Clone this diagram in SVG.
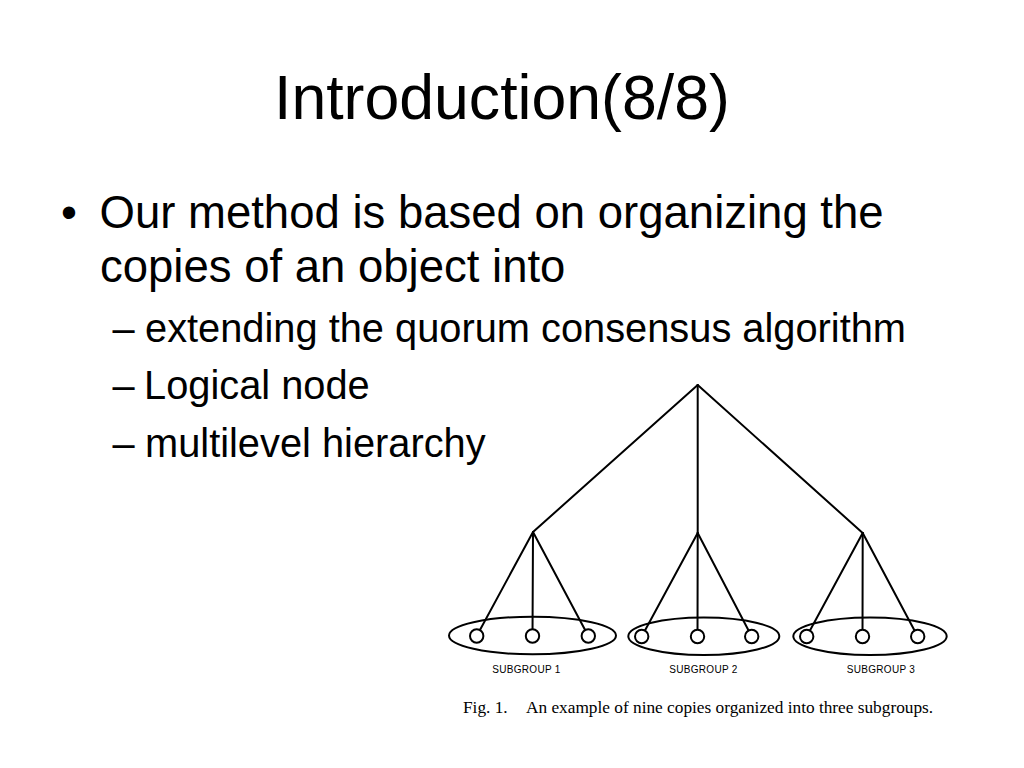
<svg xmlns="http://www.w3.org/2000/svg" width="1024" height="768" viewBox="0 0 1024 768">
<style>
.title{font-family:"Liberation Sans",Arial,sans-serif;font-size:62.6px;fill:#000}
.l1{font-family:"Liberation Sans",Arial,sans-serif;font-size:45.5px;fill:#000}
.l2{font-family:"Liberation Sans",Arial,sans-serif;font-size:39.8px;fill:#000}
.edge{stroke:#000;stroke-width:2;fill:none;stroke-linecap:round}
.leaf{fill:#fff;stroke:#000;stroke-width:2}
.grp{fill:none;stroke:#000;stroke-width:2}
.lab{font-family:"Liberation Sans",Arial,sans-serif;font-size:10px;fill:#000;text-anchor:middle}
.cap{font-family:"Liberation Serif","Times New Roman",serif;font-size:17.3px;fill:#000}
</style>
<rect width="1024" height="768" fill="#fff"/>
<text class="title" x="274" y="119.3">Introduction(8/8)</text>
<text class="l1" x="69" y="228" text-anchor="middle">•</text>
<text class="l1" x="99.5" y="228">Our method is based on organizing the</text>
<text class="l1" x="100" y="282">copies of an object into</text>
<text class="l2" x="112.5" y="341.5">–</text>
<text class="l2" x="145" y="341.5">extending the quorum consensus algorithm</text>
<text class="l2" x="112.5" y="399">–</text>
<text class="l2" x="144" y="399">Logical node</text>
<text class="l2" x="112.5" y="456.5">–</text>
<text class="l2" x="145" y="456.5">multilevel hierarchy</text>
<g id="connectors">
<line class="edge" x1="697.7" y1="385" x2="533" y2="532"/>
<line class="edge" x1="697.7" y1="385" x2="697.7" y2="533"/>
<line class="edge" x1="697.7" y1="385" x2="862.7" y2="533"/>
<line class="edge" x1="533" y1="532" x2="476.7" y2="636"/>
<line class="edge" x1="533" y1="532" x2="532.5" y2="636"/>
<line class="edge" x1="533" y1="532" x2="588.3" y2="636"/>
<line class="edge" x1="697.7" y1="533" x2="641.7" y2="636.5"/>
<line class="edge" x1="697.7" y1="533" x2="697.5" y2="636.5"/>
<line class="edge" x1="697.7" y1="533" x2="751.7" y2="636.5"/>
<line class="edge" x1="862.7" y1="533" x2="806.7" y2="636.5"/>
<line class="edge" x1="862.7" y1="533" x2="862.5" y2="636.5"/>
<line class="edge" x1="862.7" y1="533" x2="917.7" y2="636.5"/>
</g>
<g id="subgroup1">
<ellipse class="grp" cx="532.5" cy="635.5" rx="83.5" ry="18.8"/>
<circle class="leaf" cx="476.7" cy="636" r="6.7"/>
<circle class="leaf" cx="532.5" cy="636" r="6.7"/>
<circle class="leaf" cx="588.3" cy="636" r="6.7"/>
<text class="lab" x="526.5" y="672.5" letter-spacing="0.3">SUBGROUP 1</text>
</g>
<g id="subgroup2">
<ellipse class="grp" cx="703.8" cy="636.2" rx="75.5" ry="18.8"/>
<circle class="leaf" cx="641.7" cy="636.5" r="6.7"/>
<circle class="leaf" cx="697.5" cy="636.5" r="6.7"/>
<circle class="leaf" cx="751.7" cy="636.5" r="6.7"/>
<text class="lab" x="703.5" y="673" letter-spacing="0.3">SUBGROUP 2</text>
</g>
<g id="subgroup3">
<ellipse class="grp" cx="870" cy="636.2" rx="76.7" ry="18.8"/>
<circle class="leaf" cx="806.7" cy="636.5" r="6.7"/>
<circle class="leaf" cx="862.5" cy="636.5" r="6.7"/>
<circle class="leaf" cx="917.7" cy="636.5" r="6.7"/>
<text class="lab" x="881" y="673" letter-spacing="0.3">SUBGROUP 3</text>
</g>
<text class="cap" x="463" y="713">Fig. 1.</text>
<text class="cap" x="526" y="713">An example of nine copies organized into three subgroups.</text>
</svg>
